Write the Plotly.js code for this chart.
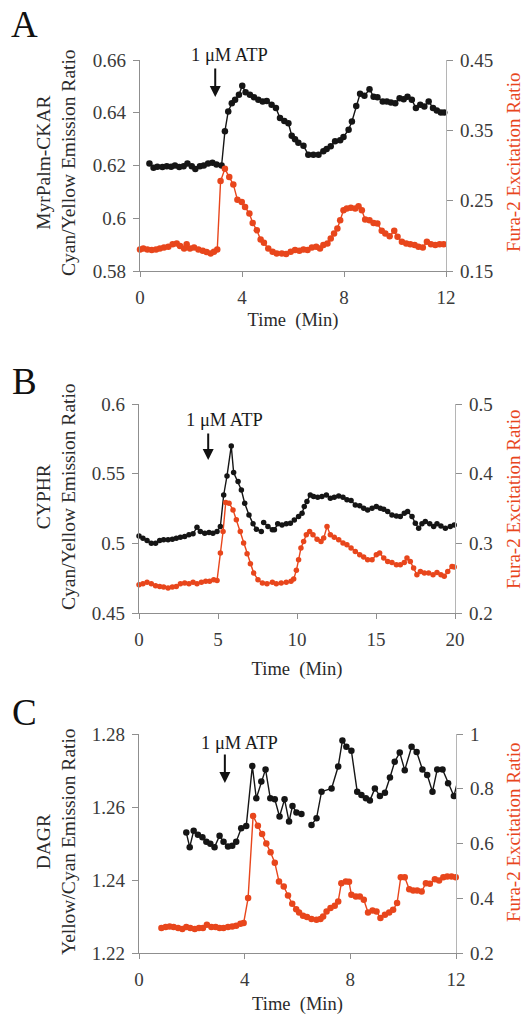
<!DOCTYPE html>
<html>
<head>
<meta charset="utf-8">
<script src="https://cdn.plot.ly/plotly-3.0.1.min.js"></script>
<style>html,body{margin:0;padding:0;background:#fff;}#chart{width:525px;height:1017px;}</style>
</head>
<body>
<div id="chart"></div>
<script>
// ---------- Panel A: MyrPalm-CKAR ----------
const timeA_ckar = [0.37,0.53,0.68,0.88,1.05,1.22,1.37,1.54,1.71,1.86,2.03,2.17,2.35,2.5,2.67,2.84,3.0,3.2,3.33,3.46,3.6,3.73,3.88,4.01,4.14,4.31,4.47,4.64,4.81,4.97,5.16,5.33,5.49,5.66,5.82,5.95,6.08,6.21,6.41,6.6,6.8,7.0,7.19,7.32,7.48,7.65,7.85,7.98,8.18,8.31,8.48,8.63,8.8,9.0,9.16,9.31,9.52,9.68,9.84,10.01,10.18,10.34,10.49,10.66,10.82,10.99,11.15,11.32,11.49,11.64,11.8,11.93];
const ratioA_ckar = [0.6208,0.6191,0.6195,0.6194,0.6197,0.6195,0.6200,0.6194,0.6197,0.6208,0.6197,0.6187,0.6197,0.6200,0.6208,0.6210,0.6204,0.6200,
  0.6330,0.6405,0.6436,0.6449,0.6468,0.6502,
  0.6478,0.6468,0.6459,0.6449,0.6443,0.6445,0.6430,0.6418,0.6380,0.6369,0.6360,
  0.6313,0.6300,0.6286,0.6275,0.6241,0.6241,0.6241,
  0.6254,0.6263,0.6273,0.6292,0.6296,0.6308,0.6336,0.6367,0.6426,0.6472,0.6464,0.6489,
  0.6461,0.6459,0.6443,0.6443,0.6439,0.6436,0.6455,0.6451,0.6461,0.6449,0.6418,0.6430,0.6424,0.6443,0.6418,0.6409,0.6401,0.6401];
const timeA_fura = [0,0.13,0.29,0.46,0.63,0.78,0.94,1.11,1.28,1.44,1.57,1.73,1.83,1.96,2.12,2.29,2.46,2.61,2.77,2.9,3.03,
  3.16,3.33,3.5,3.66,3.82,3.99,4.12,4.29,4.42,4.58,4.73,4.86,5.03,5.2,5.36,5.56,5.73,
  5.91,6.08,6.25,6.41,6.57,6.74,6.91,7.06,7.19,7.35,7.48,7.61,7.74,7.85,7.98,8.11,8.27,8.44,8.57,8.7,8.83,9.0,9.16,9.31,9.48,9.62,9.79,9.97,10.1,10.27,10.44,10.6,10.77,10.92,11.09,11.25,11.41,11.58,11.75,11.91];
const ratioA_fura = [0.1807,0.1820,0.1807,0.1797,0.1807,0.1820,0.1835,0.1844,0.1882,0.1892,0.1854,0.1820,0.1882,0.1820,0.1835,0.1807,0.1788,0.1769,0.1750,0.1774,0.1807,
  0.2778,0.2953,0.2835,0.2731,0.2514,0.2481,0.2410,0.2316,0.2184,0.2080,0.1948,0.1900,0.1820,0.1773,0.1750,0.1750,0.1741,
  0.1774,0.1797,0.1788,0.1807,0.1797,0.1835,0.1844,0.1820,0.1868,0.1892,0.1962,0.2033,0.2104,0.2222,0.2363,0.2387,0.2401,0.2387,0.2420,0.2363,
  0.2231,0.2222,0.2184,0.2175,0.2071,0.2033,0.1995,0.2071,0.1986,0.1915,0.1892,0.1882,0.1868,0.1844,0.1835,0.1915,0.1882,0.1868,0.1882,0.1882];

// ---------- Panel B: CYPHR ----------
const timeB_cyphr = [0,0.25,0.51,0.78,1.05,1.31,1.56,1.84,2.11,2.36,2.62,2.89,3.16,3.42,3.67,3.88,4.16,4.43,4.68,4.94,5.15,5.36,5.57,5.84,5.99,6.27,6.48,6.69,6.96,7.22,7.43,7.74,7.8,7.89,8.16,8.44,8.57,8.78,9.05,9.32,9.58,9.83,10.1,10.32,10.46,10.63,10.84,11.05,11.31,11.58,11.86,12.11,12.36,12.64,12.91,13.16,13.42,13.69,13.97,14.22,14.47,14.75,15.02,15.27,15.49,15.74,16.01,16.29,16.54,16.79,17.0,17.28,17.49,17.7,17.91,18.12,18.4,18.65,18.86,19.11,19.39,19.7,19.95];
const ratioB_cyphr = [0.5053,0.5037,0.5020,0.5001,0.5001,0.5020,0.5025,0.5025,0.5030,0.5037,0.5044,0.5049,0.5061,0.5068,0.5116,0.5085,0.5073,0.5077,0.5073,0.5085,
  0.5120,0.5347,0.5484,0.5699,0.5508,0.5443,0.5383,0.5288,0.5204,0.5140,0.5101,0.5085,null,
  0.5149,0.5120,0.5097,0.5097,0.5140,0.5132,0.5140,0.5144,0.5168,0.5192,0.5216,0.5264,0.5300,0.5347,0.5336,0.5331,0.5336,0.5347,0.5324,0.5331,0.5340,0.5331,
  0.5312,0.5307,0.5276,0.5269,0.5252,0.5240,0.5252,0.5264,0.5252,0.5245,0.5228,0.5204,0.5197,0.5192,0.5216,0.5228,0.5192,0.5144,0.5109,0.5140,0.5156,0.5140,
  0.5120,0.5140,0.5125,0.5109,0.5120,0.5132];
const timeB_fura = [0,0.25,0.51,0.78,1.05,1.31,1.56,1.84,2.11,2.36,2.62,2.89,3.16,3.42,3.67,3.95,4.22,4.47,4.73,4.94,
  5.15,5.32,5.49,5.7,5.95,6.16,6.41,6.62,6.84,7.05,7.26,7.53,7.81,
  8.1,8.44,8.69,9.0,9.32,9.62,
  9.79,9.96,10.1,10.25,10.42,10.59,10.8,11.01,11.27,11.52,11.69,11.9,12.11,12.36,12.64,12.91,13.16,13.42,13.69,13.97,14.22,14.47,14.75,15.02,15.23,15.49,15.74,16.01,16.29,16.54,16.79,16.96,17.17,17.38,17.59,17.81,18.06,18.33,18.61,18.86,19.11,19.32,19.54,19.81,19.95];
const ratioB_fura = [0.2406,0.2420,0.2440,0.2420,0.2392,0.2382,0.2373,0.2358,0.2373,0.2382,0.2420,0.2430,0.2420,0.2440,0.2420,0.2440,0.2454,0.2454,0.2478,0.2468,
  0.2860,0.3170,0.3586,0.3576,0.3480,0.3338,0.3170,0.3003,0.2850,0.2707,0.2573,0.2478,0.2430,
  0.2420,0.2440,0.2420,0.2430,0.2440,0.2454,
  0.2487,0.2612,0.2764,0.2932,0.3027,0.3123,0.3170,0.3123,0.3060,0.3027,0.3075,0.3242,0.3123,0.3089,0.3051,0.3003,0.2979,0.2932,0.2884,0.2836,
  0.2803,0.2764,0.2764,0.2836,0.2860,0.2788,0.2740,0.2726,0.2693,0.2693,0.2726,0.2788,0.2740,0.2645,0.2549,0.2597,0.2573,0.2573,0.2549,0.2583,
  0.2549,0.2526,0.2597,0.2669,0.2660];

// ---------- Panel C: DAGR ----------
const timeC_dagr = [1.79,1.92,2.07,2.23,2.4,2.55,2.7,2.86,3.05,3.2,3.37,3.53,3.68,3.87,4.06,4.29,4.44,4.63,4.79,4.97,5.14,5.32,5.51,5.68,5.81,5.96,6.15,6.35,6.53,6.72,6.91,7.29,7.54,7.7,7.85,8.04,8.26,8.42,8.59,8.74,8.93,9.12,9.31,9.5,9.68,9.87,10.06,10.32,10.51,10.73,10.91,11.11,11.29,11.49,11.7,11.92,12.15];
const ratioC_dagr = [1.2530,1.2490,1.2535,1.2524,1.2517,1.2505,1.2499,1.2490,1.2521,1.2505,1.2492,1.2494,1.2505,1.2542,1.2548,1.2712,1.2624,1.2670,1.2703,1.2624,
  1.2621,1.2574,1.2621,1.2560,1.2603,1.2585,1.2581,null,1.2551,1.2569,1.2642,1.2651,1.2711,1.2782,1.2765,1.2754,1.2642,1.2633,1.2624,1.2618,
  1.2651,1.2630,1.2639,1.2681,1.2724,1.2749,1.2701,1.2765,1.2751,1.2703,1.2688,1.2642,1.2703,1.2703,1.2665,1.2630,1.2695];
const timeC_fura = [0.85,1.01,1.16,1.31,1.48,1.64,1.79,1.94,2.11,2.27,2.42,2.57,2.74,2.9,3.05,3.2,3.37,3.53,3.68,3.84,3.96,
  4.13,4.32,4.5,4.66,4.82,4.98,5.14,5.3,5.48,5.64,5.8,5.95,6.06,6.21,6.36,6.53,6.72,6.87,6.97,7.1,7.25,7.41,7.54,7.66,7.83,7.95,8.04,8.21,8.36,8.51,
  8.67,8.84,8.99,9.14,9.31,9.47,9.62,9.77,9.91,10.06,10.23,10.38,10.53,10.7,10.86,11.01,11.2,11.36,11.52,11.67,11.83,11.99];
const ratioC_fura = [0.2910,0.2947,0.2971,0.2947,0.2910,0.2874,0.2947,0.2910,0.2874,0.2910,0.2910,0.3032,0.2947,0.2947,0.2910,0.2910,0.2947,0.2971,0.2995,0.3069,0.3093,
  0.4005,0.7009,0.6644,0.6350,0.6000,0.5680,0.5300,0.4613,0.4431,0.4100,0.3800,0.3600,0.3482,0.3360,0.3312,0.3239,0.3215,0.3239,0.3336,0.3519,
  0.3640,0.3725,0.3883,0.4552,0.4613,0.4600,0.4127,0.4066,0.4066,0.3944,0.3482,0.3555,0.3519,0.3276,0.3397,0.3482,0.3580,0.3823,0.4771,0.4771,
  0.4333,0.4285,0.4285,0.4248,0.4552,0.4528,0.4698,0.4650,0.4771,0.4796,0.4796,0.4771];

// ---------- tick values ----------
const ticksA_x = [0,4,8,12], ticksA_left = [0.58,0.6,0.62,0.64,0.66], ticksA_right = [0.15,0.25,0.35,0.45];
const ticksB_x = [0,5,10,15,20], ticksB_left = [0.45,0.5,0.55,0.6], ticksB_right = [0.2,0.3,0.4,0.5];
const ticksC_x = [0,4,8,12], ticksC_left = [1.22,1.24,1.26,1.28], ticksC_right = [0.2,0.4,0.6,0.8,1];

const BLACK = '#151515', ORANGE = '#E8461C', AXIS = '#8f8f8f', TICKTXT = '#3a3a3a';
const SERIF = 'Liberation Serif, Times New Roman, serif';

function blk(x, y, xa, ya, size, clip) {
  return {x: x, y: y, xaxis: xa, yaxis: ya, type: 'scatter', mode: 'lines+markers',
    line: {color: BLACK, width: 1.4}, marker: {color: BLACK, size: size},
    cliponaxis: clip, showlegend: false, hoverinfo: 'skip'};
}
function org(x, y, xa, ya, size, clip) {
  return {x: x, y: y, xaxis: xa, yaxis: ya, type: 'scatter', mode: 'lines+markers',
    line: {color: ORANGE, width: 1.4}, marker: {color: ORANGE, size: size},
    cliponaxis: clip, showlegend: false, hoverinfo: 'skip'};
}

const traces = [
  org(timeA_fura, ratioA_fura, 'x', 'y2', 6.5, false),
  blk(timeA_ckar, ratioA_ckar, 'x', 'y', 6.5, false),
  org(timeB_fura, ratioB_fura, 'x2', 'y4', 5.5, false),
  blk(timeB_cyphr, ratioB_cyphr, 'x2', 'y3', 5.5, false),
  org(timeC_fura, ratioC_fura, 'x3', 'y6', 6.5, false),
  blk(timeC_dagr, ratioC_dagr, 'x3', 'y5', 6.5, true)
];

const H = 1017, W = 525;
function py(p) { return 1 - p / H; }
function px(p) { return p / W; }

const tickFont = {family: SERIF, size: 19, color: TICKTXT};
function xax(dom, anchor, range, tv, so) {
  return {domain: dom, anchor: anchor, range: range, tickvals: tv, ticks: 'outside', ticklen: 5,
    tickcolor: AXIS, showline: true, linecolor: AXIS, linewidth: 1.3, showgrid: false, zeroline: false,
    tickfont: tickFont, ticklabelstandoff: 4,
    title: {text: 'Time  (Min)', font: {family: SERIF, size: 18.5, color: '#2a2a2a'}, standoff: so}};
}
function yleft(dom, anchor, range, tv) {
  return {domain: dom, anchor: anchor, range: range, tickvals: tv, ticks: 'outside', ticklen: 6,
    tickcolor: AXIS, showline: true, linecolor: AXIS, linewidth: 1.3, showgrid: false, zeroline: false,
    tickfont: tickFont, ticklabelstandoff: 3};
}
function yright(over, anchor, range, tv) {
  return {overlaying: over, anchor: anchor, side: 'right', range: range, tickvals: tv, ticks: 'outside', ticklen: 6,
    tickcolor: AXIS, showline: true, linecolor: '#b5b5b5', linewidth: 1.3, showgrid: false, zeroline: false,
    tickfont: tickFont, ticklabelstandoff: 3};
}

const layout = {
  width: W, height: H, margin: {l: 0, r: 0, t: 0, b: 0},
  paper_bgcolor: '#ffffff', plot_bgcolor: 'rgba(0,0,0,0)', showlegend: false,
  font: {family: SERIF, color: '#222'},
  xaxis: xax([px(140), px(446)], 'y', [0, 12], ticksA_x, 6),
  yaxis: yleft([py(271), py(60)], 'x', [0.58, 0.66], ticksA_left),
  yaxis2: yright('y', 'x', [0.15, 0.45], ticksA_right),
  xaxis2: xax([px(139), px(455)], 'y3', [0, 20], ticksB_x, 13),
  yaxis3: yleft([py(613), py(404)], 'x2', [0.45, 0.6], ticksB_left),
  yaxis4: yright('y3', 'x2', [0.2, 0.5], ticksB_right),
  xaxis3: xax([px(139), px(456)], 'y5', [0, 12], ticksC_x, 8),
  yaxis5: yleft([py(953), py(734)], 'x3', [1.22, 1.28], ticksC_left),
  yaxis6: yright('y5', 'x3', [0.2, 1], ticksC_right),
  annotations: []
};

const ann = layout.annotations;
// panel letters
[['A', 24], ['B', 381], ['C', 712]].forEach(function (d) {
  ann.push({text: d[0], xref: 'paper', yref: 'paper', x: px(24), y: py(d[1]), xanchor: 'center', yanchor: 'middle',
    showarrow: false, font: {family: SERIF, size: 37, color: '#111'}});
});
// left axis titles
[['MyrPalm-CKAR<br>Cyan/Yellow Emission Ratio', 163], ['CYPHR<br>Cyan/Yellow Emission Ratio', 497], ['DAGR<br>Yellow/Cyan Emission Ratio', 842]].forEach(function (d) {
  ann.push({text: d[0], xref: 'paper', yref: 'paper', x: px(56), y: py(d[1]), xanchor: 'center', yanchor: 'middle',
    textangle: -90, showarrow: false, font: {family: SERIF, size: 19.5, color: '#2a2a2a'}});
});
// right axis titles
[163, 500, 833].forEach(function (c) {
  ann.push({text: 'Fura-2 Excitation Ratio', xref: 'paper', yref: 'paper', x: px(513), y: py(c), xanchor: 'center', yanchor: 'middle',
    textangle: -90, showarrow: false, font: {family: SERIF, size: 19, color: ORANGE}});
});
// ATP labels (paper coordinates) and arrows (data coordinates)
const atpText = [[229, 55], [224, 420], [239, 743]];
atpText.forEach(function (p) {
  ann.push({text: '1 μM ATP', xref: 'paper', yref: 'paper', x: px(p[0]), y: py(p[1]), xanchor: 'center', yanchor: 'middle',
    showarrow: false, font: {family: SERIF, size: 18.5, color: '#1a1a1a'}});
});
const atpArrow = [
  {xr: 'x', yr: 'y', ax: 2.95, ay: 0.646, len: -30},
  {xr: 'x2', yr: 'y3', ax: 4.38, ay: 0.5598, len: -28},
  {xr: 'x3', yr: 'y5', ax: 3.25, ay: 1.2666, len: -30}
];
atpArrow.forEach(function (a) {
  ann.push({text: '', xref: a.xr, yref: a.yr, x: a.ax, y: a.ay, ax: 0, ay: a.len, showarrow: true,
    arrowhead: 2, arrowsize: 1.1, arrowwidth: 2, arrowcolor: '#111'});
});

Plotly.newPlot('chart', traces, layout, {staticPlot: true, displayModeBar: false});
</script>
</body>
</html>
